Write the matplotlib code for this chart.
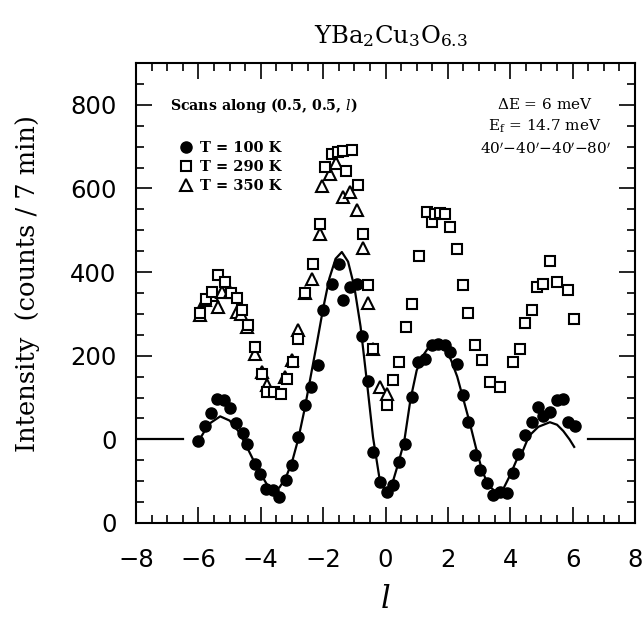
import numpy as np
import matplotlib.pyplot as plt
from matplotlib.lines import Line2D
from matplotlib.ticker import MultipleLocator, FixedLocator, FixedFormatter

plt.rcParams['mathtext.fontset'] = 'dejavuserif'

# T = 100 K (filled circles)
l_100 = [-6.0, -5.79, -5.59, -5.39, -5.18, -4.98, -4.79, -4.58, -4.43, -4.2,
         -4.02, -3.83, -3.6, -3.4, -3.2, -3.0, -2.79, -2.58, -2.39, -2.15,
         -1.99, -1.72, -1.48, -1.35, -1.14, -0.92, -0.76, -0.55, -0.39, -0.18,
         0.04, 0.25, 0.44, 0.63, 0.84, 1.05, 1.27, 1.48, 1.69, 1.91,
         2.07, 2.28, 2.47, 2.65, 2.87, 3.03, 3.24, 3.46, 3.67, 3.88,
         4.08, 4.26, 4.47, 4.69, 4.9, 5.06, 5.27, 5.49, 5.68, 5.86, 6.07]
I_100 = [-5, 32, 63, 97, 95, 76, 40, 16, -12, -60,
         -84, -118, -120, -138, -98, -61, 6, 81, 125, 179,
         309, 372, 419, 333, 364, 372, 246, 139, -30, -102,
         -126, -110, -54, -10, 101, 185, 193, 225, 229, 225,
         209, 181, 105, 41, -38, -74, -105, -132, -126, -128,
         -81, -34, 10, 41, 77, 57, 65, 93, 97, 41, 33]

# T = 290 K (open squares)
l_290 = [-5.95, -5.75, -5.57, -5.36, -5.14, -4.95, -4.77, -4.61, -4.4, -4.18,
         -3.97, -3.81, -3.57, -3.36, -3.17, -2.97, -2.79, -2.58, -2.33, -2.1,
         -1.94, -1.72, -1.51, -1.35, -1.27, -1.08, -0.87, -0.71, -0.55, -0.39,
         0.04, 0.25, 0.44, 0.66, 0.84, 1.07, 1.32, 1.48, 1.59, 1.75,
         1.91, 2.07, 2.28, 2.47, 2.65, 2.87, 3.08, 3.35, 3.67, 4.1,
         4.31, 4.47, 4.69, 4.85, 5.06, 5.27, 5.49, 5.86, 6.04]
I_290 = [301, 335, 352, 392, 376, 350, 337, 309, 273, 221,
         157, 113, 113, 109, 145, 185, 241, 349, 420, 516,
         651, 683, 687, 689, 642, 691, 608, 492, 368, 217,
         81, 141, 185, 269, 323, 438, 544, 520, 540, 542,
         540, 508, 456, 368, 301, 225, 189, 137, 125, 185,
         217, 278, 309, 364, 372, 426, 376, 356, 289]

# T = 350 K (open triangles)
l_350 = [-5.95, -5.78, -5.57, -5.36, -5.25, -4.98, -4.77, -4.62, -4.45, -4.18,
         -3.97, -3.81, -3.22, -3.01, -2.79, -2.58, -2.37, -2.1, -2.04, -1.78,
         -1.58, -1.35, -1.14, -0.9, -0.71, -0.55, -0.39, -0.18, 0.04]
I_350 = [297, 333, 345, 317, 352, 352, 305, 300, 269, 205,
         161, 129, 149, 189, 261, 349, 384, 492, 605, 635,
         660, 580, 592, 549, 458, 325, 217, 125, 109]

# fit curve through the 100 K data
l_fit = [-6.0, -5.8, -5.6, -5.3, -5.0, -4.7, -4.4, -4.1, -3.8, -3.6,
         -3.4, -3.2, -3.0, -2.8, -2.6, -2.4, -2.2, -2.0, -1.8, -1.6,
         -1.4, -1.2, -1.0, -0.8, -0.6, -0.4, -0.2, 0.0, 0.2, 0.4,
         0.6, 0.8, 1.0, 1.2, 1.4, 1.65, 1.9, 2.1, 2.3, 2.5,
         2.7, 2.9, 3.1, 3.3, 3.6, 3.8, 4.0, 4.2, 4.4, 4.6,
         4.9, 5.27, 5.5, 5.7, 5.9, 6.05]
I_fit = [-5, 20, 40, 55, 45, 18, -25, -70, -108, -122,
         -115, -92, -55, 0, 70, 150, 230, 313, 385, 432,
         448, 425, 365, 270, 140, 5, -90, -128, -110, -60,
         -5, 95, 165, 200, 222, 229, 220, 190, 150, 95,
         40, -20, -75, -110, -130, -115, -85, -50, -28, 8,
         30, 41, 35, 20, 0, -18]

# zero-level baseline segments outside the scan range
base_left = [-8, -6.5]
base_right = [6.5, 8]

ytick_vals = [-200, 0, 200, 400, 600, 800]
ytick_text = ['0', '0', '200', '400', '600', '800']

fig = plt.figure(figsize=(6.43, 6.21), dpi=100)
ax = fig.add_axes([136/643, 1-523/621, 499/643, 460/621])

ax.plot(l_fit, I_fit, '-', color='black', lw=1.6)
ax.plot(base_left, [0, 0], '-', color='black', lw=1.6)
ax.plot(base_right, [0, 0], '-', color='black', lw=1.6)
ax.plot(l_350, I_350, '^', ms=8, mfc='white', mec='black', mew=1.5, ls='none')
ax.plot(l_290, I_290, 's', ms=7.5, mfc='white', mec='black', mew=1.5, ls='none')
ax.plot(l_100, I_100, 'o', ms=8, color='black', ls='none')

ax.set_xlim(-8, 8)
ax.set_ylim(-200, 900)
ax.xaxis.set_major_locator(MultipleLocator(2))
ax.xaxis.set_minor_locator(MultipleLocator(0.5))
ax.yaxis.set_major_locator(FixedLocator(ytick_vals))
ax.yaxis.set_major_formatter(FixedFormatter(ytick_text))
ax.yaxis.set_minor_locator(MultipleLocator(50))
ax.tick_params(which='both', direction='in', top=True, right=True, width=1.2)
ax.tick_params(which='major', length=11.5, labelsize=17.5)
ax.tick_params(which='minor', length=5.5)
ax.tick_params(axis='y', pad=14)
ax.tick_params(axis='x', pad=18)
for s in ax.spines.values():
    s.set_linewidth(1.5)

fig.text(391/643, 1-36/621, r'YBa$_2$Cu$_3$O$_{6.3}$', ha='center', va='center',
         family='DejaVu Serif', fontsize=17.5)
fig.text(28/643, 1-284/621, 'Intensity  (counts / 7 min)', rotation=90,
         ha='center', va='center', family='DejaVu Serif', fontsize=18.5)
fig.text(385/643, 1-600/621, r'$\mathit{l}$', ha='center', va='center', fontsize=22)

ax.text(0.068, 0.907, r'Scans along (0.5, 0.5, $\mathit{l}$)', transform=ax.transAxes,
        family='DejaVu Serif', fontweight='bold', fontsize=10.2, va='center')
for k, txt in enumerate([r'$\Delta$E = 6 meV', r'E$_\mathrm{f}$ = 14.7 meV',
                         "40$'$$-$40$'$$-$40$'$$-$80$'$"]):
    ax.text(0.82, 0.91 - k*0.048, txt, transform=ax.transAxes, ha='center',
            va='center', family='DejaVu Serif', fontsize=11)

handles = [Line2D([], [], marker='o', ms=8, color='black', ls='none'),
           Line2D([], [], marker='s', ms=7.5, mfc='white', mec='black', mew=1.5, ls='none'),
           Line2D([], [], marker='^', ms=8, mfc='white', mec='black', mew=1.5, ls='none')]
labels = ['T = 100 K', 'T = 290 K', 'T = 350 K']
ax.legend(handles, labels, loc='upper left', bbox_to_anchor=(0.088, 0.83),
          frameon=False, handlelength=0.8, handletextpad=0.6, labelspacing=0.35,
          borderpad=0, borderaxespad=0,
          prop={'family': 'DejaVu Serif', 'weight': 'bold', 'size': 10.5})

fig.savefig('out.png', dpi=100)
